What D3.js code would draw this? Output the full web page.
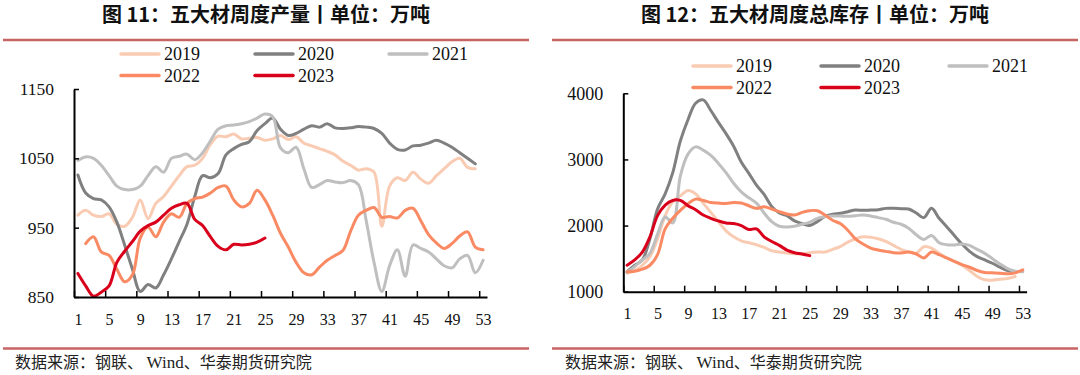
<!DOCTYPE html>
<html>
<head>
<meta charset="utf-8">
<script src="https://cdn.jsdelivr.net/npm/d3@7"></script>
<style>
    body { margin: 0; background: #fff; }
    svg { display: block; }
</style>
</head>
<body>
<div id="chart"></div>
<script>
// Data
const years = ["2019", "2020", "2021", "2022", "2023"];
const weekTicks = [1, 5, 9, 13, 17, 21, 25, 29, 33, 37, 41, 45, 49, 53];

// weekly output, 10k tonnes (index 0 = week 1)
const prod2019 = [968, 975, 968, 966, 970, 955, 952, 965, 990, 963, 985, 995, 1010, 1025, 1038, 1040, 1050, 1070, 1082, 1081, 1085, 1078, 1079, 1080, 1076, 1078, 1083, 1077, 1081, 1072, 1068, 1064, 1060, 1055, 1046, 1040, 1033, 1035, 1030, 952, 1010, 1022, 1018, 1030, 1020, 1014, 1025, 1035, 1045, 1050, 1037, 1035];
const prod2020 = [1026, 1000, 992, 990, 980, 958, 925, 890, 858, 868, 863, 882, 905, 930, 955, 995, 1025, 1022, 1028, 1055, 1064, 1070, 1074, 1090, 1100, 1108, 1092, 1083, 1086, 1092, 1097, 1095, 1100, 1094, 1093, 1094, 1096, 1095, 1093, 1086, 1072, 1063, 1062, 1068, 1069, 1072, 1076, 1072, 1066, 1058, 1050, 1042];
const prod2021 = [1047, 1052, 1050, 1040, 1025, 1010, 1005, 1005, 1010, 1025, 1038, 1030, 1050, 1053, 1056, 1048, 1058, 1075, 1092, 1097, 1098, 1100, 1103, 1108, 1114, 1110, 1065, 1058, 1066, 1035, 1008, 1012, 1018, 1016, 1015, 1018, 1012, 960, 900, 858, 895, 918, 880, 925, 920, 915, 905, 895, 892, 905, 910, 885, 903];
const prod2022 = [null, 927, 937, 915, 910, 890, 872, 882, 935, 951, 937, 958, 970, 965, 985, 992, 994, 1000, 1008, 1010, 990, 980, 985, 1004, 990, 968, 942, 922, 900, 885, 882, 893, 903, 910, 917, 945, 968, 975, 979, 965, 966, 964, 975, 978, 960, 940, 928, 920, 927, 938, 944, 922, 918];
const prod2023 = [884, 866, 851, 857, 866, 900, 916, 930, 945, 953, 958, 968, 978, 983, 985, 962, 953, 937, 923, 918, 926, 925, 926, 929, 935];

// weekly total stocks, 10k tonnes
const stock2019 = [1280, 1320, 1400, 1530, 1800, 2150, 2360, 2450, 2530, 2480, 2340, 2200, 2060, 1920, 1830, 1770, 1740, 1710, 1670, 1620, 1600, 1585, 1575, 1570, 1590, 1600, 1600, 1640, 1680, 1750, 1800, 1830, 1825, 1800, 1760, 1700, 1640, 1600, 1580, 1680, 1660, 1580, 1510, 1460, 1400, 1320, 1230, 1180, 1175, 1190, 1200, 1230];
const stock2020 = [1300, 1400, 1480, 1800, 2250, 2480, 2800, 3280, 3600, 3850, 3900, 3740, 3560, 3390, 3200, 2960, 2790, 2610, 2470, 2290, 2190, 2150, 2070, 2030, 2000, 2060, 2140, 2170, 2185, 2210, 2235, 2230, 2235, 2240, 2260, 2260, 2255, 2250, 2190, 2120, 2260, 2110, 1983, 1850, 1720, 1610, 1530, 1480, 1430, 1370, 1320, 1300];
const stock2021 = [1290, 1380, 1480, 1580, 1870, 2130, 2040, 2750, 3080, 3190, 3140, 3060, 2940, 2800, 2640, 2510, 2420, 2340, 2190, 2060, 1990, 1980, 1990, 2020, 2050, 2110, 2135, 2145, 2145, 2140, 2150, 2160, 2145, 2120, 2095, 2050, 2020, 1960, 1860, 1790, 1850, 1740, 1710, 1705, 1720, 1700, 1640, 1580, 1500, 1420, 1350, 1310, 1300];
const stock2022 = [1300, 1310, 1340, 1400, 1560, 1950, 2110, 2230, 2330, 2400, 2380, 2350, 2340, 2335, 2350, 2340, 2300, 2260, 2285, 2250, 2210, 2175, 2160, 2200, 2225, 2225, 2160, 2080, 2030, 1930, 1800, 1720, 1660, 1630, 1610, 1590, 1585, 1600, 1570, 1510, 1600, 1560, 1510, 1460, 1410, 1370, 1320, 1290, 1285, 1280, 1270, 1285, 1330];
const stock2023 = [1400, 1480, 1600, 1830, 2150, 2310, 2380, 2380, 2300, 2240, 2160, 2110, 2070, 2040, 2030, 2000, 1940, 1950, 1830, 1760, 1700, 1630, 1590, 1570, 1545];

const prodTicks = [850, 950, 1050, 1150];
const stockTicks = [1000, 2000, 3000, 4000];

// Styles
const color = d3.scaleOrdinal()
    .domain(years)
    .range(["#f9cbb3", "#808080", "#bfbfbf", "#f98a63", "#d9001b"]);

const W = 1080, H = 375;
const serif = "'Liberation Serif', 'Times New Roman', serif";
const cjk = "'Noto Sans CJK SC', sans-serif";
const rule = "#c86464";

// SVG Setup
const svg = d3.select("#chart").append("svg")
    .attr("width", W)
    .attr("height", H);

function drawPanel(p) {
    const g = svg.append("g");

    // Title
    g.append("text")
        .attr("x", p.titleX)
        .attr("y", 15)
        .attr("dy", "0.35em")
        .attr("text-anchor", "middle")
        .style("font-family", cjk)
        .style("font-size", "20px")
        .style("font-weight", "bold")
        .style("fill", "#111")
        .text(p.title);

    // Rules
    [40, 348.4].forEach(yy => {
        g.append("line")
            .attr("x1", p.ruleX[0]).attr("x2", p.ruleX[1])
            .attr("y1", yy).attr("y2", yy)
            .attr("stroke", rule)
            .attr("stroke-width", 2.5);
    });

    // Source
    const src = g.append("text")
        .attr("x", p.srcX)
        .attr("y", 362)
        .attr("dy", "0.35em")
        .style("font-family", cjk)
        .style("font-size", "16px")
        .style("fill", "#222");
    src.append("tspan").text("数据来源：钢联、 ");
    src.append("tspan").style("font-family", serif).style("font-size", "17px").text("Wind");
    src.append("tspan").text("、华泰期货研究院");

    // Scales
    const x = d3.scaleLinear().domain([0.5, 53.5]).range(p.xRange);
    const y = d3.scaleLinear().domain(p.yDomain).range(p.yRange);

    // Lines
    const line = d3.line()
        .defined(d => d.v != null)
        .x(d => x(d.w))
        .y(d => y(d.v))
        .curve(d3.curveCatmullRom.alpha(0.5));

    years.forEach((yr, i) => {
        const data = p.series[i].map((v, k) => ({ w: k + 1, v: v }));
        g.append("path")
            .datum(data)
            .attr("fill", "none")
            .attr("stroke", color(yr))
            .attr("stroke-width", 3)
            .attr("stroke-linejoin", "round")
            .attr("stroke-linecap", "round")
            .attr("d", line);
    });

    // Axes
    const xAxis = g.append("g")
        .attr("transform", `translate(0, ${p.yRange[0]})`)
        .call(d3.axisBottom(x)
            .tickValues(weekTicks.map(w => w - 0.5))
            .tickSizeInner(-6)
            .tickSizeOuter(0)
            .tickFormat(""));
    xAxis.select(".domain").attr("stroke-width", 2);
    xAxis.selectAll(".tick line").attr("stroke-width", 1.5);

    const xLabels = g.append("g")
        .attr("transform", `translate(0, ${p.yRange[0]})`)
        .call(d3.axisBottom(x)
            .tickValues(weekTicks)
            .tickSize(0)
            .tickPadding(p.labelPad));
    xLabels.select(".domain").remove();
    xLabels.selectAll("text")
        .style("font-family", serif)
        .style("font-size", "16px")
        .style("fill", "#111");

    const yAxis = g.append("g")
        .attr("transform", `translate(${p.xRange[0]}, 0)`)
        .call(d3.axisLeft(y)
            .tickValues(p.yTicks)
            .tickFormat(d3.format("d"))
            .tickSizeInner(-5)
            .tickSizeOuter(0)
            .tickPadding(20));
    yAxis.select(".domain").attr("stroke-width", 2);
    yAxis.selectAll(".tick line").attr("stroke-width", 1.5);
    yAxis.selectAll("text")
        .style("font-family", serif)
        .style("font-size", p.yFont)
        .style("fill", "#111");

    // Legend
    const legend = g.append("g").attr("class", "legend");
    years.forEach((yr, i) => {
        const lx = p.legendX[i % 3];
        const ly = p.legendY[Math.floor(i / 3)];
        legend.append("line")
            .attr("x1", lx + 2).attr("x2", lx + 40)
            .attr("y1", ly).attr("y2", ly)
            .attr("stroke", color(yr))
            .attr("stroke-width", 3.5)
            .attr("stroke-linecap", "round");
        legend.append("text")
            .attr("x", lx + 45)
            .attr("y", ly)
            .attr("dy", "0.35em")
            .style("font-family", serif)
            .style("font-size", "18px")
            .style("fill", "#111")
            .text(yr);
    });
}

drawPanel({
    title: "图 11：五大材周度产量丨单位：万吨",
    titleX: 266,
    ruleX: [3, 529],
    srcX: 15,
    xRange: [74, 487],
    labelPad: 17,
    yDomain: [850, 1150],
    yRange: [297, 89],
    yTicks: prodTicks,
    yFont: "17.5px",
    legendX: [119, 253, 387],
    legendY: [54, 75.5],
    series: [prod2019, prod2020, prod2021, prod2022, prod2023]
});

drawPanel({
    title: "图 12：五大材周度总库存丨单位：万吨",
    titleX: 815,
    ruleX: [552, 1078],
    srcX: 565,
    xRange: [623.3, 1026.6],
    labelPad: 16,
    yDomain: [1000, 4000],
    yRange: [291.7, 93.3],
    yTicks: stockTicks,
    yFont: "18px",
    legendX: [691, 819, 947],
    legendY: [66, 87.5],
    series: [stock2019, stock2020, stock2021, stock2022, stock2023]
});
</script>
</body>
</html>
